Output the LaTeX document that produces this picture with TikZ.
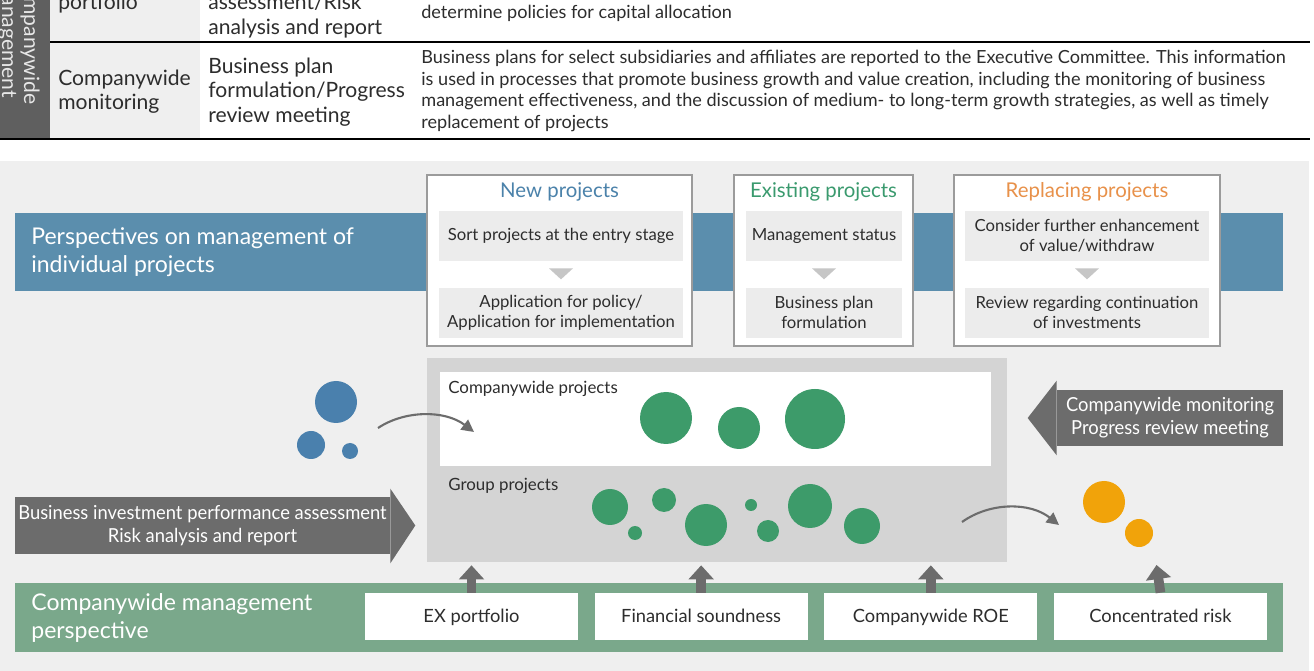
\documentclass[tikz,border=0pt]{standalone}
\usepackage{fontspec}
\setmainfont{Lato}
\newfontfamily\condfont[FakeStretch=0.95]{Lato}
\usepackage{tikz}
\usetikzlibrary{arrows.meta, positioning, calc}
\definecolor{darkcol}{RGB}{95, 95, 95}
\definecolor{panelgray}{RGB}{239, 239, 239}
\definecolor{bandblue}{RGB}{91, 142, 173}
\definecolor{bandgreen}{RGB}{122, 168, 139}
\definecolor{framegray}{RGB}{155, 155, 155}
\definecolor{stagegray}{RGB}{236, 236, 236}
\definecolor{trigray}{RGB}{198, 198, 198}
\definecolor{midgray}{RGB}{212, 212, 212}
\definecolor{arrowgray}{RGB}{108, 108, 108}
\definecolor{dotgreen}{RGB}{61, 155, 106}
\definecolor{dotblue}{RGB}{74, 128, 173}
\definecolor{dotorange}{RGB}{241, 163, 10}
\definecolor{titleblue}{RGB}{75, 130, 170}
\definecolor{titlegreen}{RGB}{58, 154, 110}
\definecolor{titleorange}{RGB}{232, 145, 74}
\definecolor{inkgray}{RGB}{45, 45, 45}
\tikzset{
    cell/.style={anchor=west, align=left, inner sep=0pt, text=inkgray,
                 font=\fontsize{12}{13.8}\selectfont},
    note/.style={anchor=west, align=left, inner sep=0pt, text=inkgray,
                 font=\fontsize{10.3}{12.5}\selectfont},
    band/.style={rectangle, minimum width=25.36cm, inner sep=0pt},
    bandtext/.style={anchor=west, align=left, inner sep=0pt, text=white,
                     font=\fontsize{13.1}{15.9}\selectfont},
    frame/.style={rectangle, draw=framegray, line width=0.9pt, fill=white,
                  minimum width=#1, minimum height=3.42cm, inner sep=0pt},
    stage/.style={rectangle, fill=stagegray, minimum width=#1,
                  minimum height=1cm, align=center, inner sep=0pt,
                  text=inkgray, font=\fontsize{9.5}{11.3}\selectfont},
    ftitle/.style={inner sep=0pt, font=\fontsize{11.6}{13}\selectfont},
    kpi/.style={rectangle, fill=white, minimum width=4.26cm,
                minimum height=0.94cm, inner sep=0pt, text=inkgray,
                text height=1.7ex, text depth=0.45ex,
                font=\fontsize{10.4}{12}\selectfont},
    blockarr/.style={rectangle, fill=arrowgray, inner sep=0pt, align=center,
                     text=white, font=\condfont\fontsize{11}{13}\selectfont},
    plabel/.style={anchor=west, inner sep=0pt, text=inkgray,
                   font=\fontsize{9.6}{11}\selectfont},
}

\begin{document}
\begin{tikzpicture}[x=0.02cm, y=-0.02cm,
    arr/.style={-{Triangle[width=7pt, length=7pt]}, line width=1.2pt, arrowgray},
    uparr/.style={-{Triangle[width=14pt, length=8pt]}, line width=5.5pt, arrowgray},
    tri/.style={fill=trigray},
]
    \useasboundingbox (0,0) rectangle (1314,671);
    \fill[white] (0,0) rectangle (1314,671);

    % Table (cut off at the top)
    \fill[darkcol] (0,-10) rectangle (50,138);
    \fill[panelgray] (50,-10) rectangle (200,138);
    \draw[line width=0.9pt] (50,42) -- (1310,42);
    \draw[line width=0.9pt] (0,139) -- (1310,139);
    \node[rotate=-90, align=center, inner sep=0pt, text=white!85!darkcol,
          font=\fontsize{12}{12.5}\selectfont] (colhead) at (19,38)
          {Companywide\\management};

    \node[cell] (portf) at (58,4) {portfolio};
    \node[cell] (assess) at (208,16) {assessment/Risk\\analysis and report};
    \node[note] (capital) at (421,13) {determine policies for capital allocation};

    \node[cell] (monitor) at (58,92) {Companywide\\monitoring};
    \node[cell] (planmeet) at (208,92) {Business plan\\formulation/Progress\\review meeting};
    \node[note] (plantext) at (421,91) {Business plans for select subsidiaries and affiliates are reported to the Executive Committee. This information\\
        is used in processes that promote business growth and value creation, including the monitoring of business\\
        management effectiveness, and the discussion of medium- to long-term growth strategies, as well as timely\\
        replacement of projects};

    % Panel
    \fill[panelgray] (0,161) rectangle (1309,671);

    % Individual projects
    \node[band, fill=bandblue, minimum height=1.56cm] (indband) at (649,252) {};
    \node[bandtext] (indtext) at (31,252) {Perspectives on management of\\individual projects};

    \node[frame=5.3cm] (newfr) at (559.5,260.5) {};
    \node[ftitle, text=titleblue] (newtitle) at (559.5,192) {New projects};
    \node[stage=4.88cm] (new1) at (561,236) {Sort projects at the entry stage};
    \node[stage=4.88cm, below=0.52cm of new1] (new2) {Application for policy/\\Application for implementation};

    \node[frame=3.58cm] (exfr) at (823.5,260.5) {};
    \node[ftitle, text=titlegreen] (extitle) at (823.5,192) {Existing projects};
    \node[stage=3.12cm] (ex1) at (824,236) {Management status};
    \node[stage=3.12cm, below=0.52cm of ex1] (ex2) {Business plan\\formulation};

    \node[frame=5.32cm] (repfr) at (1087,260.5) {};
    \node[ftitle, text=titleorange] (reptitle) at (1087,192) {Replacing projects};
    \node[stage=4.88cm] (rep1) at (1087,236) {Consider further enhancement\\of value/withdraw};
    \node[stage=4.88cm, below=0.52cm of rep1] (rep2) {Review regarding continuation\\of investments};

    \foreach \s in {new1, ex1, rep1}
        \fill[tri] ($(\s.south)+(-12,7)$) -- ($(\s.south)+(12,7)$) -- ($(\s.south)+(0,18)$) -- cycle;

    % Project pool
    \node[rectangle, fill=midgray, minimum width=11.6cm, minimum height=4.08cm,
          inner sep=0pt] (pool) at (717,460) {};
    \node[rectangle, fill=white, minimum width=11.02cm, minimum height=1.88cm,
          inner sep=0pt] (cwpool) at (715.5,419) {};
    \node[plabel] (cwlabel) at (448,389) {Companywide projects};
    \node[plabel] (grlabel) at (448,486) {Group projects};

    \foreach \x/\y/\r in {666/418/26, 739/428/21, 815/419/30,
                          610/507/18, 635/533/7, 664/500/12, 706/525/21,
                          751/505/6, 768/531/11, 810/506/22, 862/526/18}
        \fill[dotgreen] (\x,\y) circle[radius=\r];

    % New entries
    \foreach \x/\y/\r in {336/402/21, 311/445/14, 350/451/8}
        \fill[dotblue] (\x,\y) circle[radius=\r];
    \coordinate (newfrom) at (378,428);
    \coordinate (newto) at (474,432);
    \draw[arr] (newfrom) .. controls (405,410) and (445,410) .. (newto);

    % Exits
    \foreach \x/\y/\r in {1104/502/21, 1139/533/14}
        \fill[dotorange] (\x,\y) circle[radius=\r];
    \coordinate (exitfrom) at (962,522);
    \coordinate (exitto) at (1059,525);
    \draw[arr] (exitfrom) .. controls (990,502) and (1030,502) .. (exitto);

    % Block arrows
    \node[blockarr, minimum width=7.5cm, minimum height=1.14cm] (assessarr) at (202.5,525.5)
        {Business investment performance assessment\\Risk analysis and report};
    \fill[arrowgray] ($(assessarr.north east)+(0,-8)$) -- ($(assessarr.east)+(25,0)$)
        -- ($(assessarr.south east)+(0,9)$) -- cycle;

    \node[blockarr, minimum width=4.52cm, minimum height=1.12cm] (monarr) at (1170,418)
        {Companywide monitoring\\Progress review meeting};
    \fill[arrowgray] ($(monarr.north west)+(0,-9)$) -- ($(monarr.west)+(-29,0)$)
        -- ($(monarr.south west)+(0,9)$) -- cycle;

    % Companywide management
    \node[band, fill=bandgreen, minimum height=1.38cm] (cwband) at (649,617.5) {};
    \node[bandtext] (cwtext) at (31,618) {Companywide management\\perspective};

    \node[kpi] (expf) at (471.5,616.5) {EX portfolio};
    \node[kpi, right=0.32cm of expf] (fsound) {Financial soundness};
    \node[kpi, right=0.32cm of fsound] (roe) {Companywide ROE};
    \node[kpi, right=0.32cm of roe] (crisk) {Concentrated risk};

    \coordinate (riskup) at (1156.5,565);
    \foreach \k in {expf, fsound, roe}
        \draw[uparr] (\k.north) -- ($(\k.north |- pool.south)+(0,3)$);
    \draw[uparr] (crisk.north) -- (riskup);
\end{tikzpicture}
\end{document}
